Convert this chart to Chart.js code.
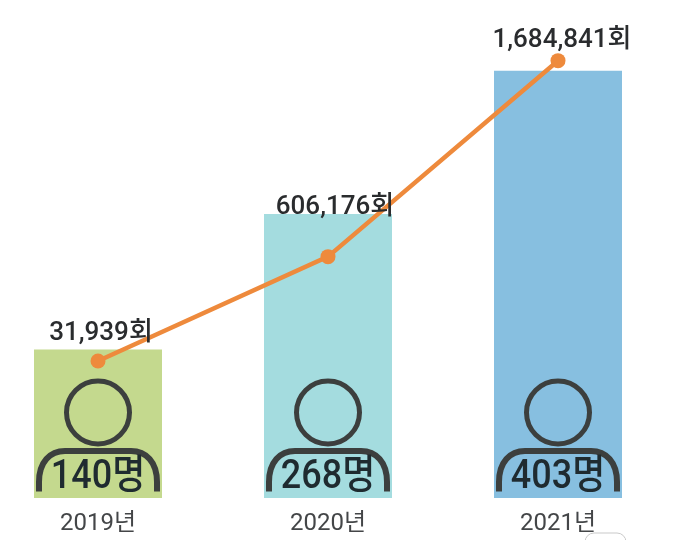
<!DOCTYPE html>
<html>
<head>
<meta charset="utf-8">
<script src="https://cdn.jsdelivr.net/npm/chart.js@4/dist/chart.umd.js"></script>
<style>
html, body { margin: 0; padding: 0; background: #fff; overflow: hidden; width: 696px; height: 540px; }
/* canvas starts left of the window: the first category sits closer to the edge than one band allows */
#chart { position: absolute; left: -17px; top: 0; }
</style>
</head>
<body>
<canvas id="chart" width="713" height="540"></canvas>
<script>
var years = ['2019년', '2020년', '2021년'];
var people = [140, 268, 403];
var visits = [31939, 606176, 1684841];
var barColors = ['#c4d98e', '#a4dcdf', '#87bfe0'];
// label nudges from each point, the source puts them by hand
var labelDx = [3, 7, 4];
var labelDy = [-28, -49, -20];

var FONT = 'Roboto, "Noto Sans CJK KR", sans-serif';

var personIcons = {
	id: 'personIcons',
	afterDatasetsDraw: function (chart) {
		var ctx = chart.ctx;
		var bars = chart.getDatasetMeta(1).data;
		var base = chart.scales.y.getPixelForValue(0);
		ctx.save();
		bars.forEach(function (bar, i) {
			var cx = bar.x;
			ctx.strokeStyle = '#3c3f3e';
			ctx.lineWidth = 5;
			ctx.beginPath();
			ctx.arc(cx, base - 85.5, 31.5, 0, Math.PI * 2);
			ctx.stroke();

			ctx.lineWidth = 6;
			ctx.beginPath();
			ctx.moveTo(cx - 59, base - 6.5);
			ctx.lineTo(cx - 59, base - 16);
			ctx.bezierCurveTo(cx - 59, base - 36, cx - 48, base - 47, cx - 33, base - 47);
			ctx.lineTo(cx + 33, base - 47);
			ctx.bezierCurveTo(cx + 48, base - 47, cx + 59, base - 36, cx + 59, base - 16);
			ctx.lineTo(cx + 59, base - 6.5);
			ctx.stroke();

			// the count is set tall and narrow in the source
			ctx.save();
			ctx.translate(cx, base - 20);
			ctx.scale(1, 1.12);
			ctx.fillStyle = '#1f2b30';
			ctx.font = '500 36px ' + FONT;
			ctx.textAlign = 'center';
			ctx.textBaseline = 'middle';
			ctx.fillText(people[i] + '명', 0, 0);
			ctx.restore();
		});
		ctx.restore();
	}
};

var visitLabels = {
	id: 'visitLabels',
	afterDraw: function (chart) {
		var ctx = chart.ctx;
		var pts = chart.getDatasetMeta(0).data;
		ctx.save();
		ctx.fillStyle = '#2a2c2e';
		ctx.font = '500 26px ' + FONT;
		ctx.textAlign = 'center';
		ctx.textBaseline = 'middle';
		pts.forEach(function (pt, i) {
			ctx.fillText(visits[i].toLocaleString('en-US') + '회', pt.x + labelDx[i], pt.y + labelDy[i]);
		});
		// stray rounded box cut off by the bottom edge of the source image
		ctx.strokeStyle = '#c9c9c9';
		ctx.lineWidth = 1;
		ctx.beginPath();
		ctx.roundRect(pts[2].x + 27, 533, 41, 20, 9);
		ctx.stroke();
		ctx.restore();
	}
};

new Chart(document.getElementById('chart').getContext('2d'), {
	data: {
		labels: years,
		datasets: [
			{
				type: 'line',
				data: visits,
				yAxisID: 'y2',
				order: 0,
				borderColor: '#ee8a3c',
				backgroundColor: '#ee8a3c',
				borderWidth: 4.5,
				pointRadius: 7.5,
				pointBorderWidth: 0,
				tension: 0,
				clip: false
			},
			{
				type: 'bar',
				data: people,
				yAxisID: 'y',
				order: 1,
				backgroundColor: barColors,
				borderWidth: 0,
				barPercentage: 0.5565,
				categoryPercentage: 1
			}
		]
	},
	options: {
		responsive: false,
		animation: false,
		layout: { autoPadding: false, padding: { right: 23 } },
		plugins: { legend: { display: false }, tooltip: { enabled: false } },
		scales: {
			x: {
				grid: { display: false },
				border: { display: false },
				ticks: {
					padding: 4,
					color: '#444648',
					maxRotation: 0,
					font: { family: FONT, size: 24 }
				},
				afterFit: function (scale) { scale.height = 42; }
			},
			y: { display: false, min: 0, max: 469.8 },
			y2: { display: false, min: -722000, max: 2018700 }
		}
	},
	plugins: [personIcons, visitLabels]
});
</script>
</body>
</html>
